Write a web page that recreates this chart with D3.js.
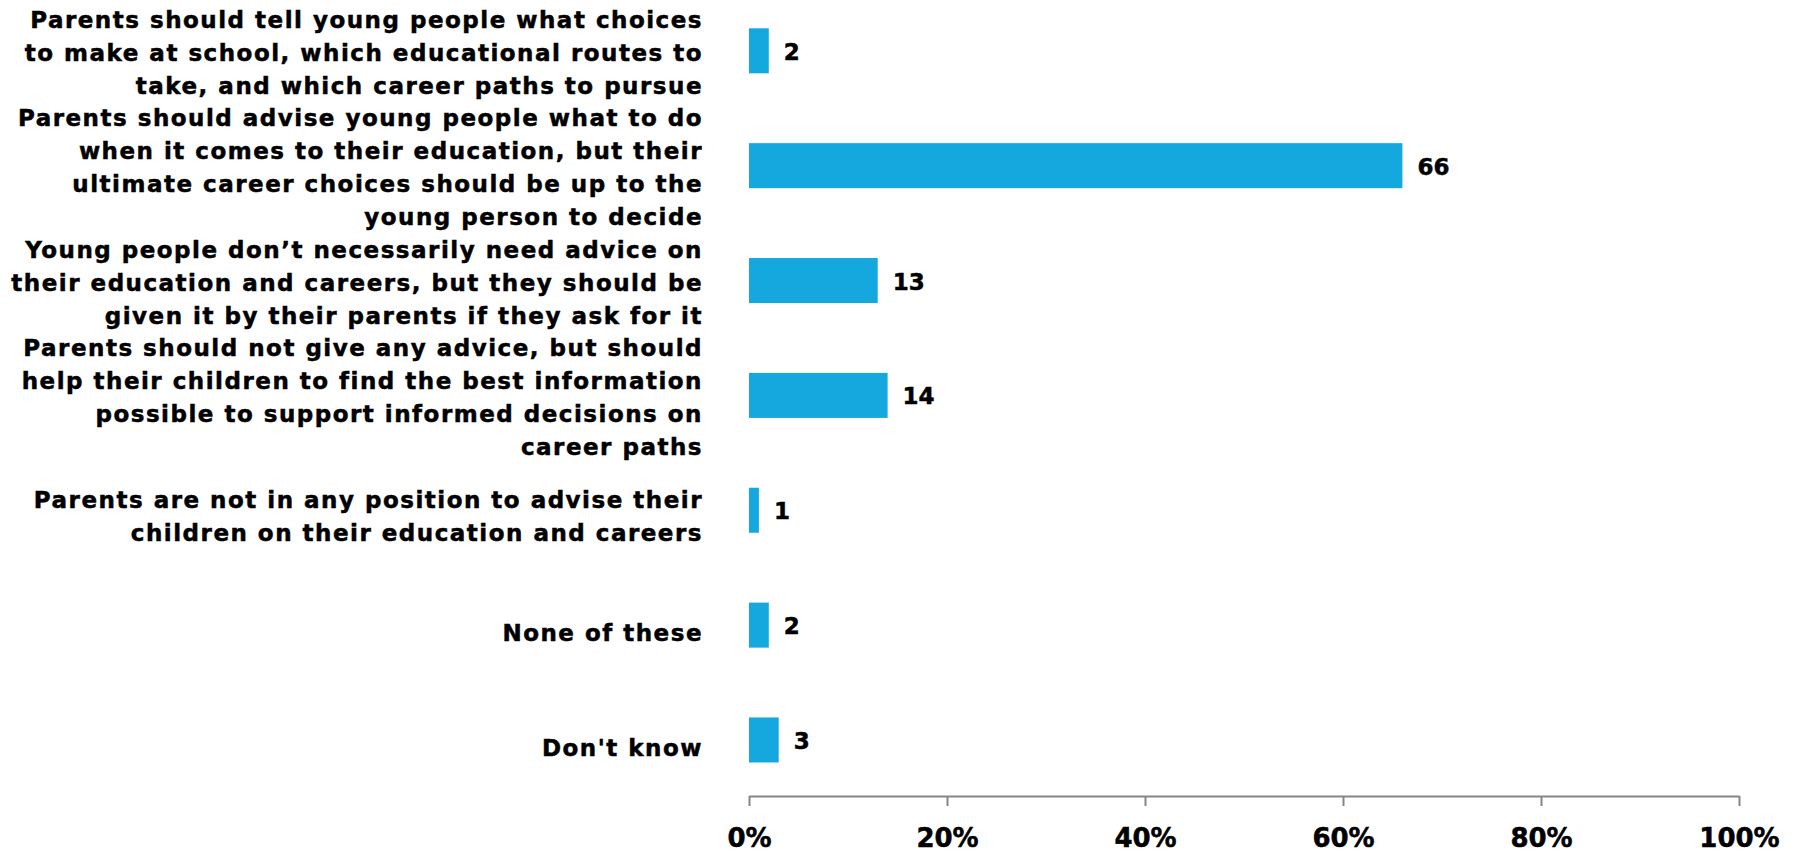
<!DOCTYPE html>
<html>
<head>
<meta charset="utf-8">
<script src="https://cdn.jsdelivr.net/npm/d3@7"></script>
<style>
  html, body { margin: 0; padding: 0; background: #ffffff; }
  svg { display: block; }
  text { font-family: "DejaVu Sans", Verdana, sans-serif; font-weight: bold; fill: #000; stroke: #000; stroke-width: 0.5px; }
</style>
</head>
<body>
<svg id="chart" width="1799" height="852"></svg>
<script>
const categories = [
  "Parents should tell young people what choices\nto make at school, which educational routes to\ntake, and which career paths to pursue",
  "Parents should advise young people what to do\nwhen it comes to their education, but their\nultimate career choices should be up to the\nyoung person to decide",
  "Young people don\u2019t necessarily need advice on\ntheir education and careers, but they should be\ngiven it by their parents if they ask for it",
  "Parents should not give any advice, but should\nhelp their children to find the best information\npossible to support informed decisions on\ncareer paths",
  "Parents are not in any position to advise their\nchildren on their education and careers",
  "None of these",
  "Don't know"
];
const values = [2, 66, 13, 14, 1, 2, 3];
const xTicks = [0, 20, 40, 60, 80, 100];
const xTickLabels = ["0%", "20%", "40%", "60%", "80%", "100%"];

const svg = d3.select("#chart");
const x = d3.scaleLinear().domain([0, 100]).range([749, 1739]);
const y = d3.scaleBand().domain(categories).range([-6.6, 797.4]).paddingInner(0.608).paddingOuter(0.304);
const barColor = "#14a8de";

// bars
svg.append("g").selectAll("rect").data(values).join("rect")
  .attr("x", x(0))
  .attr("y", (d, i) => y(categories[i]))
  .attr("width", d => x(d) - x(0))
  .attr("height", y.bandwidth())
  .attr("fill", barColor);

// value labels
svg.append("g").selectAll("text").data(values).join("text")
  .attr("x", d => x(d) + 15)
  .attr("y", (d, i) => y(categories[i]) + y.bandwidth() / 2 + 9)
  .attr("font-size", 23)
  .text(d => d);

// category labels
const lineH = 33;
const catG = svg.append("g");
categories.forEach(c => {
  const lines = c.split("\n");
  const n = lines.length;
  const cy = y(c) + y.bandwidth() / 2;
  const off = n === 1 ? 16 : (n === 2 ? 14 : 10);
  const t = catG.append("text")
    .attr("text-anchor", "end")
    .attr("font-size", 23)
    .attr("letter-spacing", "1.5px");
  lines.forEach((ln, i) => {
    t.append("tspan")
      .attr("x", 703)
      .attr("y", cy + (i - (n - 1) / 2) * lineH + off)
      .text(ln);
  });
});

// x axis
const axis = d3.axisBottom(x)
  .tickValues(xTicks)
  .tickFormat((d, i) => xTickLabels[i])
  .tickSize(10)
  .tickSizeOuter(0)
  .tickPadding(23);
const ag = svg.append("g").attr("transform", "translate(0,796)").call(axis);
ag.select(".domain").attr("stroke", "#868686").attr("stroke-width", 2);
ag.selectAll(".tick line").attr("stroke", "#868686").attr("stroke-width", 2);
ag.selectAll(".tick text")
  .attr("font-size", 26)
  .attr("font-family", "DejaVu Sans, sans-serif")
  .attr("font-weight", "bold")
  .attr("fill", "#000")
  .attr("stroke", "#000")
  .attr("stroke-width", 0.6);
</script>
</body>
</html>
